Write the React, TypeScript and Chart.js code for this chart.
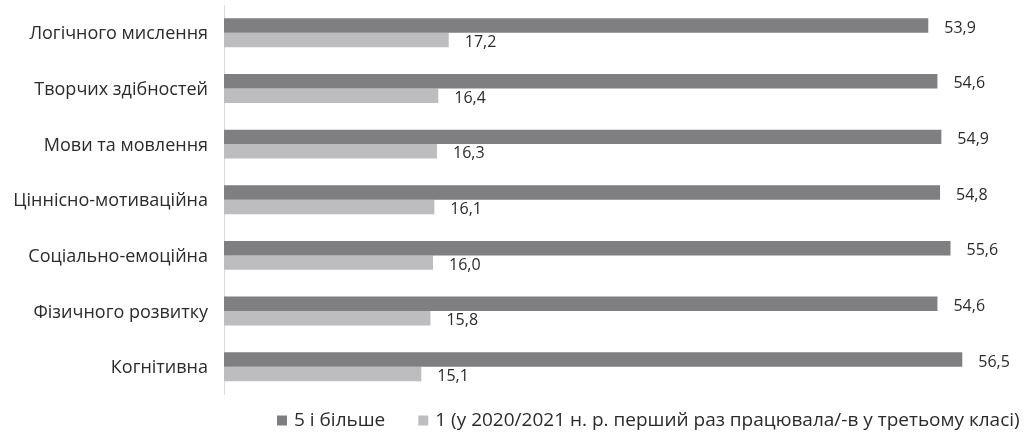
import React, { useEffect, useRef } from "react";
import { Chart, registerables } from "chart.js";

Chart.register(...registerables);

const categories = [
  "Логічного мислення",
  "Творчих здібностей",
  "Мови та мовлення",
  "Ціннісно-мотиваційна",
  "Соціально-емоційна",
  "Фізичного розвитку",
  "Когнітивна",
];
const seriesNames = [
  "5 і більше",
  "1 (у 2020/2021 н. р. перший раз працювала/-в у третьому класі)",
];
const fivePlus = [53.9, 54.6, 54.9, 54.8, 55.6, 54.6, 56.5];
const firstTime = [17.2, 16.4, 16.3, 16.1, 16.0, 15.8, 15.1];

const DARK = "#7f7f82";
const LIGHT = "#bdbdbf";
const TEXT = "#2b2b2b";
const FONT = "'Open Sans', 'Noto Sans', sans-serif";

const fmt = (v: number) => v.toFixed(1).replace(".", ",");

const valueLabels = {
  id: "valueLabels",
  afterDatasetsDraw(chart: any) {
    const ctx = chart.ctx;
    ctx.save();
    ctx.font = `16px ${FONT}`;
    ctx.fillStyle = TEXT;
    ctx.textAlign = "left";
    ctx.textBaseline = "middle";
    chart.data.datasets.forEach((ds: any, di: number) => {
      const meta = chart.getDatasetMeta(di);
      meta.data.forEach((el: any, i: number) => {
        ctx.fillText(fmt(ds.data[i]), el.x + 16, el.y + 2.5);
      });
    });
    ctx.restore();
  },
};

const customLegend = {
  id: "customLegend",
  afterDraw(chart: any) {
    const ctx = chart.ctx;
    ctx.save();
    ctx.font = `19px ${FONT}`;
    ctx.textBaseline = "middle";
    ctx.textAlign = "left";
    let x = 277;
    const y = 420.5;
    chart.data.datasets.forEach((ds: any) => {
      ctx.fillStyle = ds.backgroundColor;
      ctx.fillRect(x, y - 5, 10, 10);
      ctx.fillStyle = TEXT;
      ctx.fillText(ds.label, x + 17, y);
      x += 17 + ctx.measureText(ds.label).width + 33;
    });
    ctx.restore();
  },
};

export default function App() {
  const ref = useRef<HTMLCanvasElement>(null);
  useEffect(() => {
    if (!ref.current) return;
    const chart = new Chart(ref.current, {
      type: "bar",
      data: {
        labels: categories,
        datasets: [
          { label: seriesNames[0], data: fivePlus, backgroundColor: DARK },
          { label: seriesNames[1], data: firstTime, backgroundColor: LIGHT },
        ],
      },
      options: {
        indexAxis: "y",
        animation: false,
        responsive: true,
        maintainAspectRatio: false,
        layout: { padding: { top: 5, bottom: 38.5, left: 0, right: 21 } },
        datasets: { bar: { categoryPercentage: 0.52, barPercentage: 1 } },
        plugins: { legend: { display: false }, tooltip: { enabled: false } },
        scales: {
          x: { display: false, min: 0, max: 60 },
          y: {
            grid: {
              display: true,
              drawOnChartArea: false,
              drawTicks: true,
              tickLength: 16,
              tickColor: "rgba(0,0,0,0)",
            },
            border: { display: true, color: "#d9d9d9", width: 1 },
            ticks: {
              color: TEXT,
              padding: 0,
              labelOffset: 1.5,
              font: { family: FONT, size: 18, lineHeight: 0.4 },
            },
            afterFit: (scale: any) => {
              scale.width = 224;
            },
          },
        },
      },
      plugins: [valueLabels, customLegend],
    });
    return () => chart.destroy();
  }, []);
  return (
    <div style={{ position: "absolute", left: 0, top: 0, width: 1029, height: 433 }}>
      <canvas ref={ref} />
    </div>
  );
}
